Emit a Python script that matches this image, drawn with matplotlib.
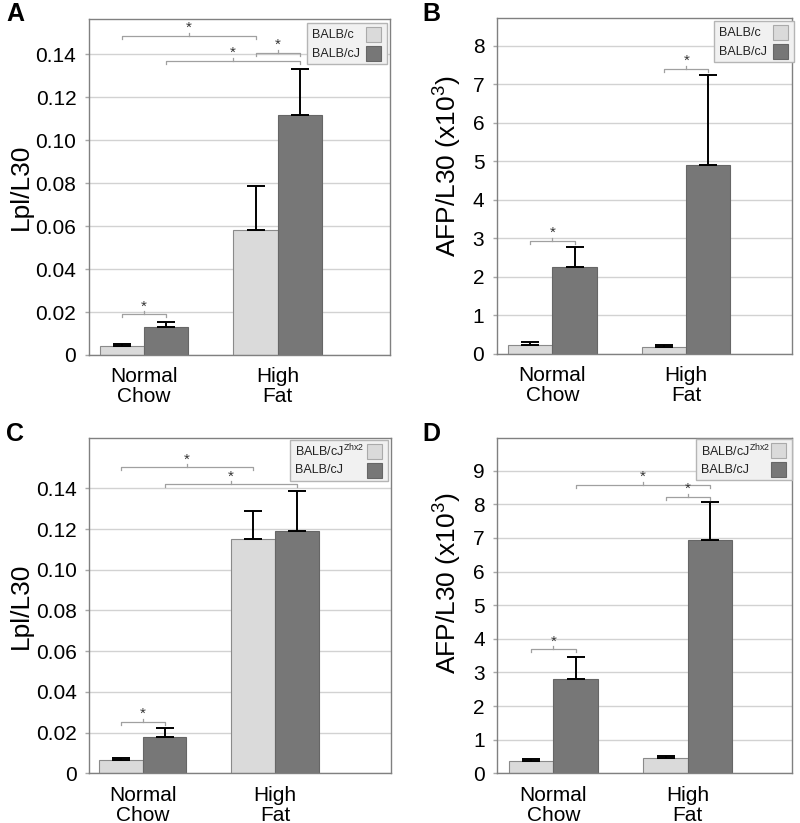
import numpy as np
import matplotlib
matplotlib.use("Agg")
import matplotlib.pyplot as plt
from matplotlib.patches import Rectangle

plt.rcParams['font.family'] = ['Liberation Sans', 'DejaVu Sans']
plt.rcParams['mathtext.default'] = 'regular'

groups = ["Normal\nChow", "High\nFat"]

# panel A: Lpl/L30, BALB/c vs BALB/cJ
a_light = [0.0043, 0.0582]
a_light_err = [0.0008, 0.0205]
a_dark = [0.0132, 0.1117]
a_dark_err = [0.0023, 0.0214]

# panel B: AFP/L30 (x10^3), BALB/c vs BALB/cJ
b_light = [0.23, 0.19]
b_light_err = [0.07, 0.05]
b_dark = [2.26, 4.90]
b_dark_err = [0.52, 2.34]

# panel C: Lpl/L30, BALB/cJ^Zhx2 vs BALB/cJ
c_light = [0.0064, 0.1153]
c_light_err = [0.0013, 0.0136]
c_dark = [0.0180, 0.1190]
c_dark_err = [0.0041, 0.0195]

# panel D: AFP/L30 (x10^3), BALB/cJ^Zhx2 vs BALB/cJ
d_light = [0.367, 0.466]
d_light_err = [0.05, 0.05]
d_dark = [2.815, 6.94]
d_dark_err = [0.635, 1.14]

# significance brackets: (bar 1, bar 2, height); bars 0..3 = NC-light, NC-dark, HF-light, HF-dark
a_sig = [(0, 2, 0.1485), (1, 3, 0.137), (2, 3, 0.1408), (0, 1, 0.0189)]
b_sig = [(0, 1, 2.93), (2, 3, 7.39)]
c_sig = [(0, 2, 0.1503), (1, 3, 0.142), (0, 1, 0.0254)]
d_sig = [(1, 3, 8.57), (2, 3, 8.21), (0, 1, 3.69)]

LIGHT = '#dadada'
DARK = '#777777'
EDGE = '#8a8a8a'
W = 0.33
FW, FH = 800, 823

fig = plt.figure(figsize=(FW / 100, FH / 100), dpi=100)


def legend_box(ax, rect, names, box_w, right_in, top_in):
    # hand-made legend: text left-aligned, colour swatch on the right
    aw, ah = rect[2] * FW, rect[3] * FH
    fx = lambda px: 1 - px / aw
    fy = lambda px: 1 - px / ah
    box_h = 41
    ax.add_patch(Rectangle((fx(right_in + box_w), fy(top_in + box_h)), box_w / aw, box_h / ah,
                           transform=ax.transAxes, facecolor='#f1f1f1', edgecolor='#b5b5b5',
                           linewidth=1.0, zorder=6, clip_on=False))
    for k, (name, col, ec) in enumerate(zip(names, [LIGHT, DARK], ['#aaaaaa', '#666666'])):
        top = top_in + 4 + k * 19
        ax.add_patch(Rectangle((fx(right_in + 21), fy(top + 15)), 15 / aw, 15 / ah,
                               transform=ax.transAxes, facecolor=col, edgecolor=ec,
                               linewidth=0.8, zorder=7, clip_on=False))
        ax.text(fx(right_in + box_w - 5), fy(top + 7.5), name, transform=ax.transAxes,
                ha='left', va='center', fontsize=9, color='#222222', zorder=8)


def panel(rect, light, light_err, dark, dark_err, sig, ylim, yticks, yticklabels,
          ylabel, label_xy, xlim, legend_names, legend_geo, letter, letter_pos):
    ax = fig.add_axes(rect)
    x = np.arange(len(groups))
    ax.set_axisbelow(True)
    ax.yaxis.grid(True, color='#d2d2d2', linewidth=1)
    ax.bar(x - W / 2, light, W, color=LIGHT, edgecolor=EDGE, linewidth=0.8, zorder=2)
    ax.bar(x + W / 2, dark, W, color=DARK, edgecolor='#666666', linewidth=0.8, zorder=2)
    ax.errorbar(x - W / 2, light, yerr=[np.zeros(len(light)), light_err], fmt='none',
                ecolor='black', elinewidth=1.4, capsize=6.5, capthick=1.4, zorder=3)
    ax.errorbar(x + W / 2, dark, yerr=[np.zeros(len(dark)), dark_err], fmt='none',
                ecolor='black', elinewidth=1.4, capsize=6.5, capthick=1.4, zorder=3)

    centers = [x[0] - W / 2, x[0] + W / 2, x[1] - W / 2, x[1] + W / 2]
    tick = (ylim[1] - ylim[0]) * 0.009
    for i1, i2, y in sig:
        x1, x2 = centers[i1], centers[i2]
        ax.plot([x1, x1, x2, x2], [y - tick, y, y, y - tick], color='#a0a0a0', lw=0.9,
                zorder=4)
        xm = (x1 + x2) / 2
        ax.plot([xm, xm], [y, y + tick], color='#a0a0a0', lw=0.9, zorder=4)
        ax.text(xm, y + tick * 0.3, '*', ha='center', va='bottom', fontsize=11,
                color='#333333', zorder=5)

    ax.set_xlim(*xlim)
    ax.set_ylim(*ylim)
    ax.set_yticks(yticks)
    ax.set_yticklabels(yticklabels, fontsize=15)
    ax.set_xticks(x)
    ax.set_xticklabels(groups, fontsize=15, linespacing=1.05)
    ax.tick_params(axis='x', length=0, pad=9)
    ax.tick_params(axis='y', length=3, width=1, color='#a8a8a8', direction='out', pad=6)
    ax.set_ylabel(ylabel, fontsize=19)
    ax.yaxis.set_label_coords(*label_xy)
    for s in ax.spines.values():
        s.set_color('#808080')
        s.set_linewidth(1.0)

    legend_box(ax, rect, legend_names, *legend_geo)
    fig.text(letter_pos[0], letter_pos[1], letter, fontsize=18, fontweight='bold',
             va='top', ha='left')
    return ax


lpl_ticks = [0, 0.02, 0.04, 0.06, 0.08, 0.10, 0.12, 0.14]
lpl_labels = ['0', '0.02', '0.04', '0.06', '0.08', '0.10', '0.12', '0.14']

panel([0.111, 0.5687, 0.376, 0.408], a_light, a_light_err, a_dark, a_dark_err, a_sig,
      (0, 0.1564), lpl_ticks, lpl_labels, 'Lpl/L30', (-0.187, 0.5), (-0.41, 1.836),
      ['BALB/c', 'BALB/cJ'], (80, 3, 4), 'A', (0.008, 0.998))

panel([0.621, 0.5699, 0.369, 0.408], b_light, b_light_err, b_dark, b_dark_err, b_sig,
      (0, 8.71), list(range(0, 9)), [str(v) for v in range(0, 9)],
      'AFP/L30 (x10$^{3}$)', (-0.112, 0.56), (-0.416, 1.79),
      ['BALB/c', 'BALB/cJ'], (80, -2, 3), 'B', (0.528, 0.998))

panel([0.1116, 0.0604, 0.377, 0.408], c_light, c_light_err, c_dark, c_dark_err, c_sig,
      (0, 0.165), lpl_ticks, lpl_labels, 'Lpl/L30', (-0.188, 0.5), (-0.404, 1.875),
      ['BALB/cJ$^{Zhx2}$', 'BALB/cJ'], (98, 3, 2), 'C', (0.008, 0.487))

panel([0.6216, 0.0604, 0.369, 0.407], d_light, d_light_err, d_dark, d_dark_err, d_sig,
      (0, 9.96), list(range(0, 10)), [str(v) for v in range(0, 10)],
      'AFP/L30 (x10$^{3}$)', (-0.114, 0.567), (-0.418, 1.78),
      ['BALB/cJ$^{Zhx2}$', 'BALB/cJ'], (96, 0, 1), 'D', (0.528, 0.487))

fig.savefig('out.png', dpi=100, facecolor='white')
